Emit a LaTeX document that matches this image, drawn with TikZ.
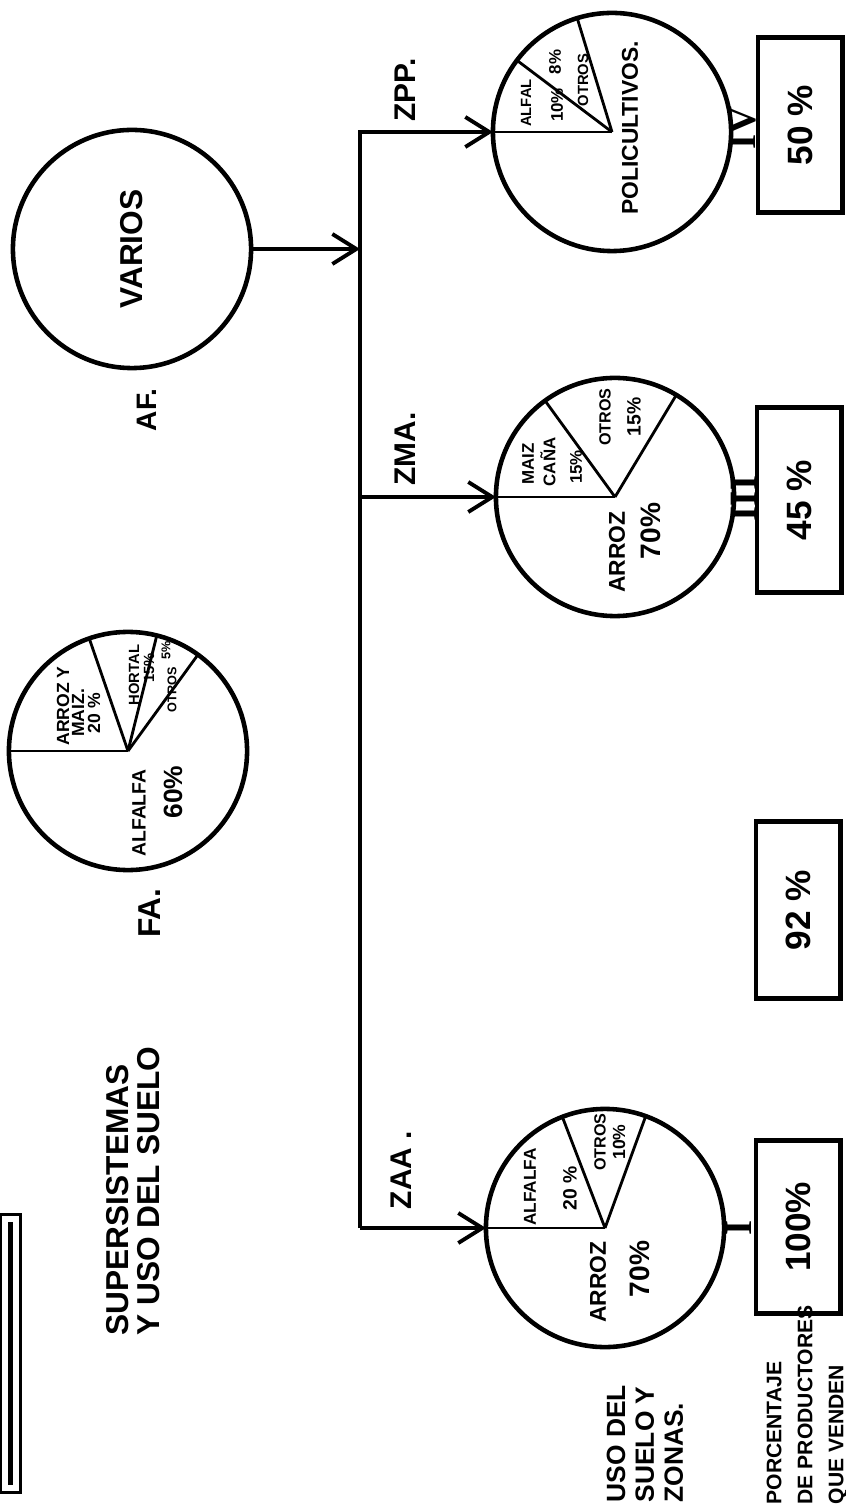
\documentclass[tikz,border=0pt]{standalone}
\usepackage{fontspec}
\setmainfont{Liberation Sans}
\newfontfamily\romanfont{Liberation Serif}
\usetikzlibrary{arrows.meta}

\tikzset{
  pie/.style={circle, draw, line width=1.3pt, minimum size=2.38cm, inner sep=0pt, outer sep=0pt},
  slice/.style={line width=0.8pt},
  box/.style={draw, line width=1.4pt, rotate=90, minimum height=0.84cm, inner sep=0pt,
    font=\bfseries\fontsize{10}{12}\selectfont},
  lbl/.style={rotate=90, inner sep=0pt, font=\bfseries\fontsize{#1}{#1}\selectfont},
  lbl/.default=8,
  numeral/.style={rotate=90, inner sep=0pt, font=\romanfont\bfseries\fontsize{11}{11}\selectfont},
  arr/.style={line width=1.1pt, -{Straight Barb[length=2.4mm, width=3mm, line width=1.1pt]}}
}

\begin{document}
\begin{tikzpicture}[x=0.01cm, y=-0.01cm]
  \useasboundingbox (0,0) rectangle (846,1507);

  % Circles
  \node[pie] (varios) at (132,249) {};
  \node[pie] (fa) at (128,751) {};
  \node[pie] (zpp) at (612,132) {};
  \node[pie] (zma) at (615,497) {};
  \node[pie] (zaa) at (605,1228) {};

  % Slices
  \foreach \p/\a in {fa/180, fa/109, fa/76, fa/54, zpp/180, zpp/143, zpp/107,
      zma/180, zma/126, zma/59, zaa/180, zaa/111, zaa/70} {
      \draw[slice] (\p.center) -- (\p.\a);
    }

  % Trunk and arrows
  \coordinate (ttop) at (360,132);
  \coordinate (tbot) at (360,1228);
  \draw[arr, line join=miter] (tbot) -- (ttop) -- (zpp.west);
  \draw[arr] (ttop |- zma.west) -- (zma.west);
  \draw[arr] (tbot) -- (zaa.west);
  \draw[arr] (varios.east) -- (varios.east -| ttop);

  % Boxes
  \node[box, minimum width=1.74cm] (p50) at (800,125) {50 \%};
  \node[box, minimum width=1.85cm] (p45) at (799,500) {45 \%};
  \node[box, minimum width=1.76cm] (p92) at (798,910) {92 \%};
  \node[box, minimum width=1.73cm] (p100) at (798,1227) {100\%};

  % Numerals between circles and boxes
  \path (zpp.east) -- (p50.north) node[numeral, midway] (nIV) {IV};
  \path (zma.east) -- (p45.north) node[numeral, midway] (nIII) {III};
  \path (zaa.east) -- (p100.north) node[numeral, midway] (nI) {I};

  % Zone labels
  \node[lbl=9] (tvarios) at (varios) {VARIOS};
  \node[lbl=8] (taf) at (147,410) {AF.};
  \node[lbl=9] (tfa) at (150,913) {FA.};
  \node[lbl=8.5] (tzpp) at (405,90) {ZPP.};
  \node[lbl=8.5] (tzma) at (405,449) {ZMA.};
  \node[lbl=8.5] (tzaa) at (401,1170) {ZAA .};

  % FA slices
  \node[lbl=5] at (63,706) {ARROZ Y};
  \node[lbl=5] at (78,713) {MAIZ.};
  \node[lbl=5] at (94,713) {20 \%};
  \node[lbl=4.2] at (134,675) {HORTAL};
  \node[lbl=4.2] at (149,668) {15\%};
  \node[lbl=3.6] at (166,650) {5\%};
  \node[lbl=3.6] at (172,690) {OTROS};
  \node[lbl=5.5] at (139,813) {ALFALFA};
  \node[lbl=7.5] at (173,792) {60\%};

  % ZPP slices
  \node[lbl=4.2] at (526,103) {ALFAL};
  \node[lbl=4.8] at (557,105) {10\%};
  \node[lbl=4.8] at (555,62) {8\%};
  \node[lbl=4.2] at (583,80) {OTROS};
  \node[lbl=6.5] at (630,128) {POLICULTIVOS.};

  % ZMA slices
  \node[lbl=4.8] at (528,464) {MAIZ};
  \node[lbl=4.8] at (548,462) {CAÑA};
  \node[lbl=4.8] at (576,467) {15\%};
  \node[lbl=4.6] at (605,417) {OTROS};
  \node[lbl=5.5] at (634,417) {15\%};
  \node[lbl=6.5] at (617,552) {ARROZ};
  \node[lbl=8] at (651,531) {70\%};

  % ZAA slices
  \node[lbl=4.9] at (530,1187) {ALFALFA};
  \node[lbl=5.5] at (570,1188) {20 \%};
  \node[lbl=4.6] at (600,1142) {OTROS};
  \node[lbl=5] at (619,1142) {10\%};
  \node[lbl=6.5] at (598,1282) {ARROZ};
  \node[lbl=8] at (640,1269) {70\%};

  % Titles
  \node[rotate=90, anchor=north west, align=left, inner sep=0pt,
    font=\bfseries\fontsize{9}{8.8}\selectfont] (title) at (106,1336) {SUPERSISTEMAS\\Y USO DEL SUELO};
  \node[rotate=90, anchor=north west, align=left, inner sep=0pt,
    font=\bfseries\fontsize{7.5}{8.2}\selectfont] (uso) at (606,1503) {USO DEL\\SUELO Y\\ZONAS.};
  \node[rotate=90, anchor=north west, align=left, inner sep=0pt,
    font=\bfseries\fontsize{6}{8.8}\selectfont] (porc) at (766,1505) {PORCENTAJE\\DE PRODUCTORES\\QUE VENDEN};

  % Bar
  \draw[double, double distance=1.5pt, line width=0.9pt] (5,1219) rectangle (16,1488);
\end{tikzpicture}
\end{document}
